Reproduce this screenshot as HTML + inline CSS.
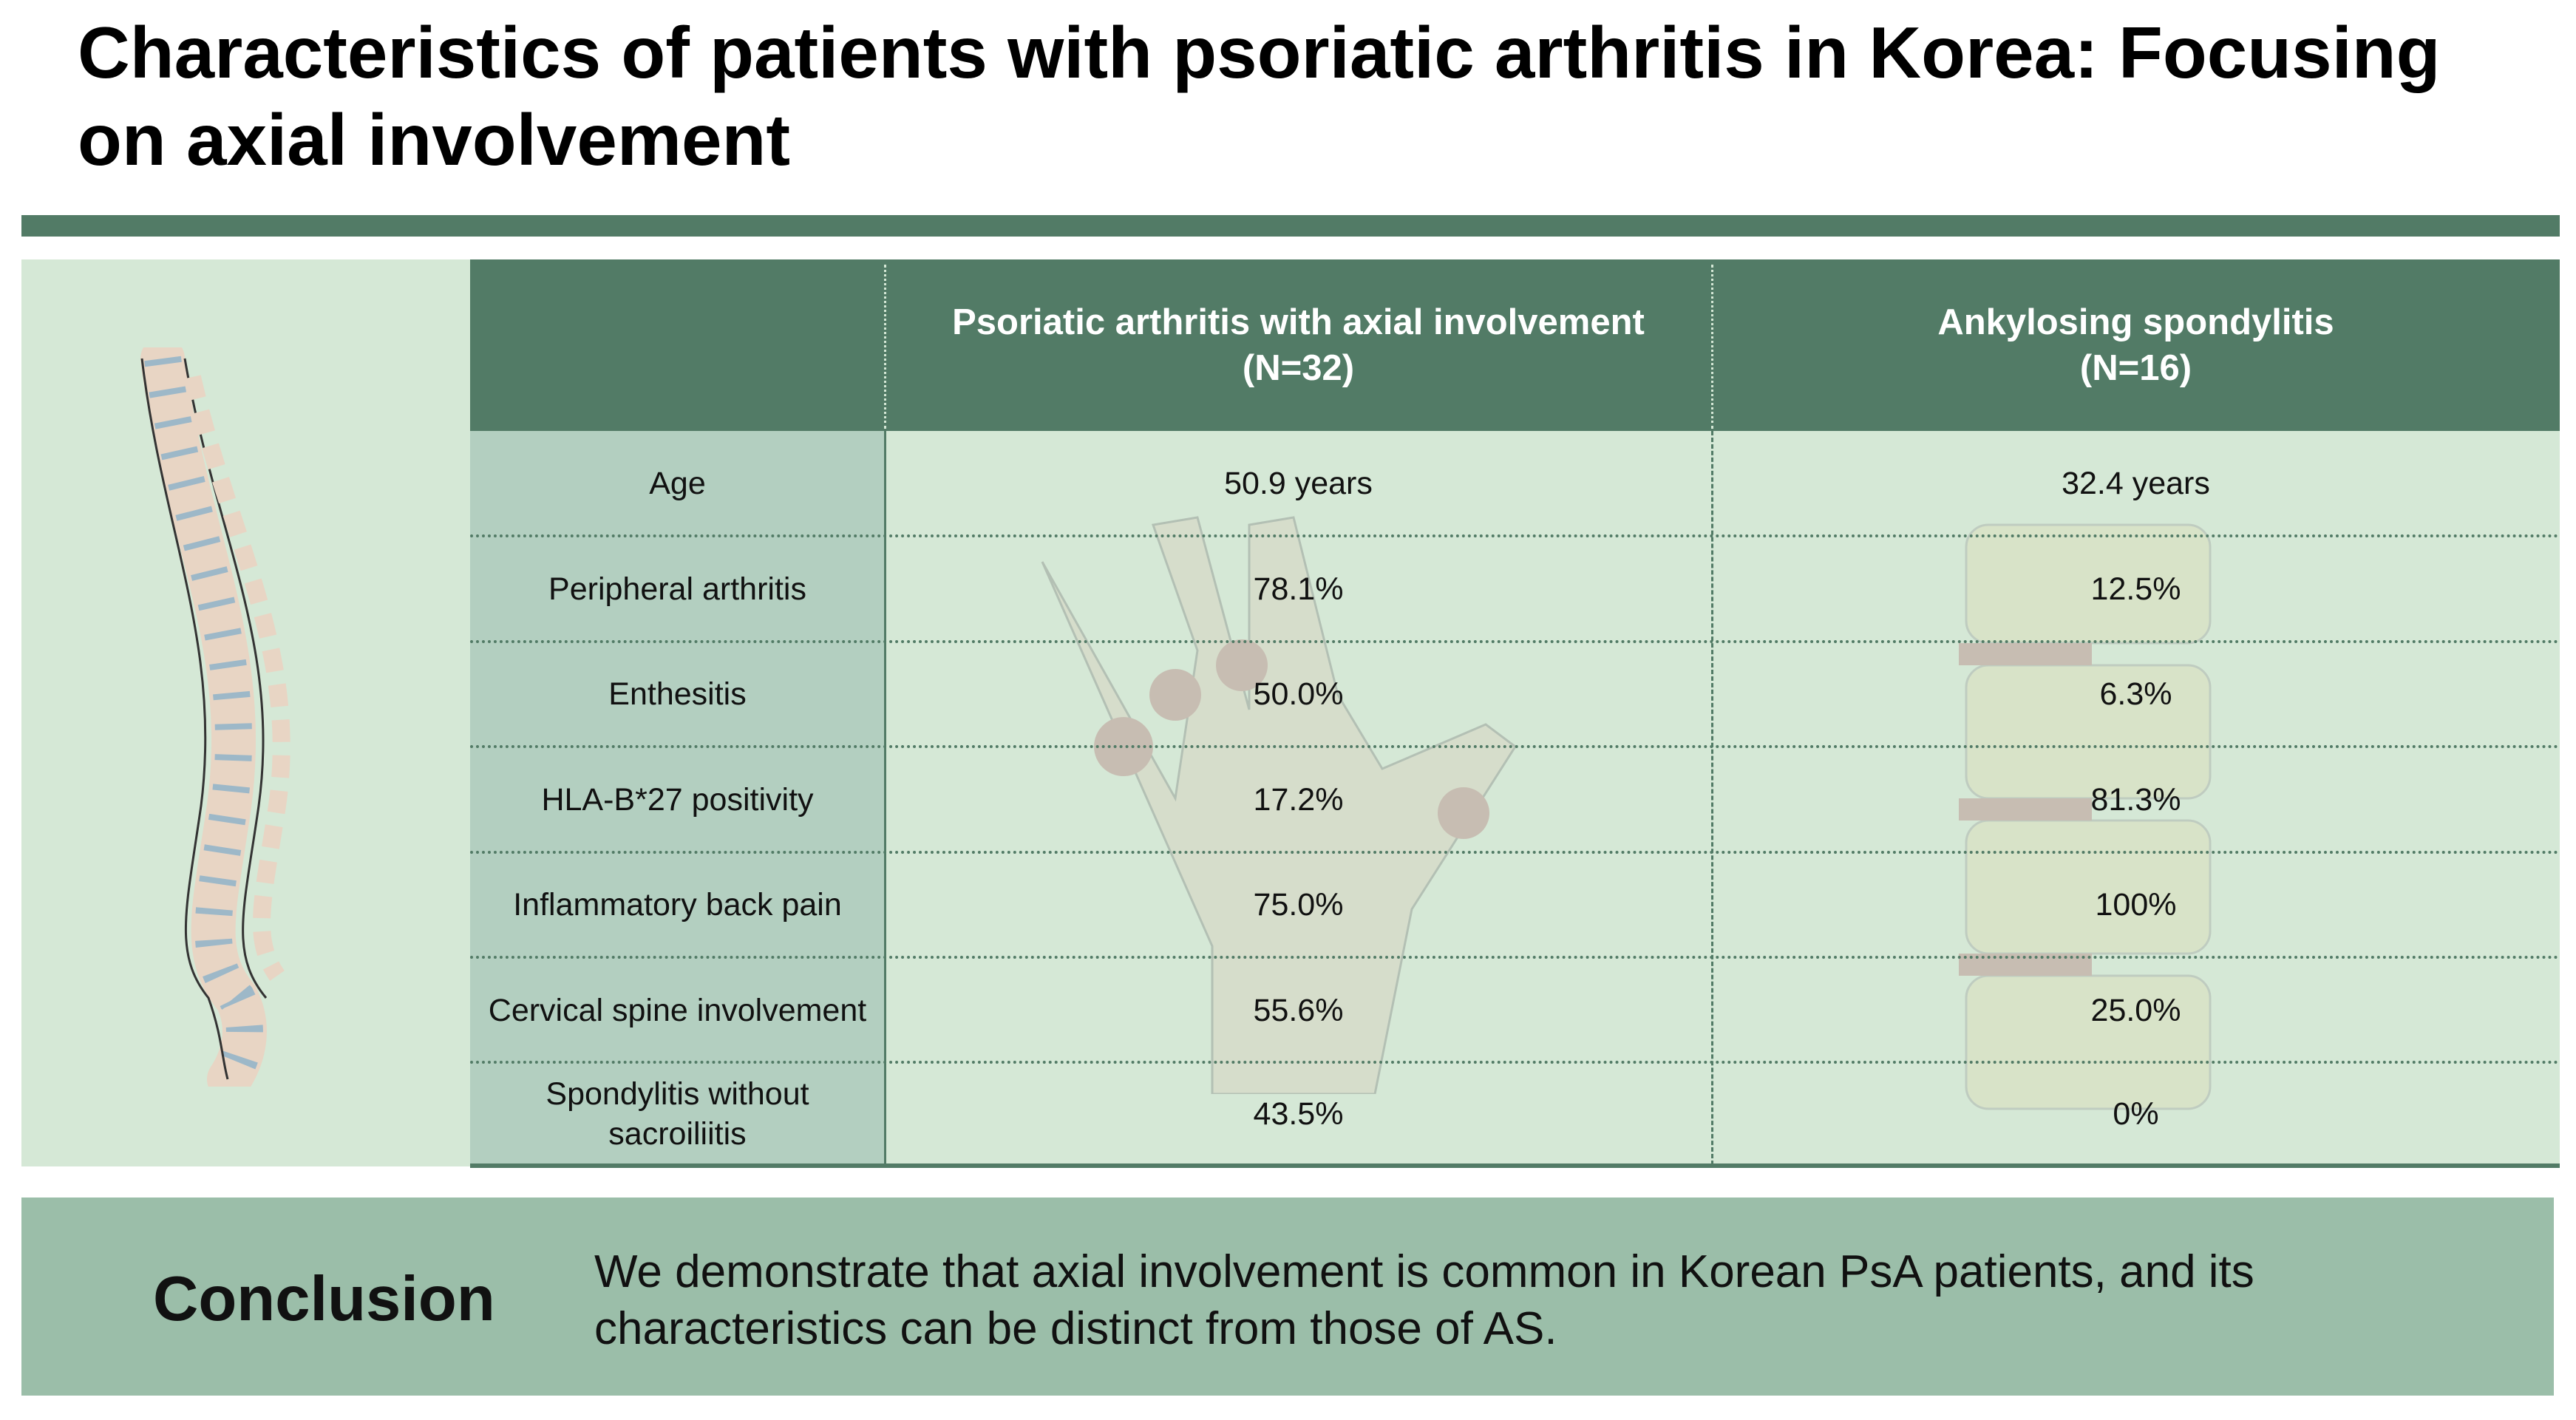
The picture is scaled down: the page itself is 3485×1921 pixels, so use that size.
<!DOCTYPE html>
<html><head><meta charset="utf-8"><style>
*{margin:0;padding:0;box-sizing:border-box}
body{width:3485px;height:1921px;background:#fff;position:relative;overflow:hidden;font-family:"Liberation Sans",Arial,sans-serif}
.t{position:absolute;left:105px;top:12px;font-size:98px;font-weight:bold;line-height:118px;color:#000}
.bar{position:absolute;left:29px;top:291px;width:3434px;height:29px;background:#527b66}
.lp{position:absolute;left:29px;top:351px;width:607px;height:1227px;background:#d5e8d6}
.cell{position:absolute;display:flex;align-items:center;justify-content:center;text-align:center;font-size:43px;color:#111;line-height:54px}
.h{color:#fff;font-weight:bold;font-size:49px;line-height:62px}
.hl{position:absolute;height:0;border-top:4px dotted #527b66}
.conc{position:absolute;left:29px;top:1620px;width:3426px;height:268px;background:#9bbea9}
</style></head><body>
<div class="t">Characteristics of patients with psoriatic arthritis in Korea: Focusing<br>on axial involvement</div>
<div class="bar"></div>
<div class="lp"></div>
<div style="position:absolute;left:636px;top:351px;width:2827px;height:232px;background:#527b66"></div>
<div style="position:absolute;left:636px;top:583px;width:561px;height:993px;background:#b3cfc0"></div>
<div style="position:absolute;left:1197px;top:583px;width:2266px;height:993px;background:#d5e8d6"></div>
<div style="position:absolute;left:636px;top:1574px;width:2827px;height:6px;background:#527b66"></div>
<div style="position:absolute;left:1196px;top:583px;width:3px;height:993px;background:#527b66"></div>
<div style="position:absolute;left:2315px;top:583px;width:0;height:993px;border-left:3px dashed #527b66"></div>
<div style="position:absolute;left:1196px;top:358px;width:0;height:222px;border-left:3px dotted #d5e8d6"></div>
<div style="position:absolute;left:2315px;top:358px;width:0;height:222px;border-left:3px dotted #d5e8d6"></div>
<svg style="position:absolute;left:1390px;top:680px" width="700" height="800" opacity="0.35">
<path d="M20,80 L200,400 L230,200 L170,30 L230,20 L300,280 L300,30 L360,20 L420,260 L480,360 L620,300 L660,330 L520,550 L470,800 L250,800 L250,600 Z" fill="#d8c9b8" stroke="#777" stroke-width="3"/>
<circle cx="130" cy="330" r="40" fill="#b07070"/><circle cx="200" cy="260" r="35" fill="#b07070"/><circle cx="290" cy="220" r="35" fill="#b07070"/><circle cx="590" cy="420" r="35" fill="#b07070"/>
</svg>
<svg style="position:absolute;left:2640px;top:690px" width="460" height="840" opacity="0.35">
<g fill="#e0dcb0" stroke="#999" stroke-width="3">
<rect x="20" y="20" width="330" height="160" rx="30"/><rect x="20" y="210" width="330" height="180" rx="30"/><rect x="20" y="420" width="330" height="180" rx="30"/><rect x="20" y="630" width="330" height="180" rx="30"/>
</g>
<g fill="#b07070"><rect x="10" y="180" width="180" height="30"/><rect x="10" y="390" width="180" height="30"/><rect x="10" y="600" width="180" height="30"/></g>
</svg>
<div class="hl" style="left:636px;top:723px;width:2827px"></div>
<div class="hl" style="left:636px;top:866px;width:2827px"></div>
<div class="hl" style="left:636px;top:1008px;width:2827px"></div>
<div class="hl" style="left:636px;top:1151px;width:2827px"></div>
<div class="hl" style="left:636px;top:1293px;width:2827px"></div>
<div class="hl" style="left:636px;top:1435px;width:2827px"></div>
<div class="cell h" style="left:1197px;top:351px;width:1119px;height:232px">Psoriatic arthritis with axial involvement<br>(N=32)</div>
<div class="cell h" style="left:2316px;top:351px;width:1147px;height:232px">Ankylosing spondylitis<br>(N=16)</div>
<div class="cell" style="left:636px;top:583px;width:561px;height:142px">Age</div>
<div class="cell" style="left:1197px;top:583px;width:1119px;height:142px">50.9 years</div>
<div class="cell" style="left:2316px;top:583px;width:1147px;height:142px">32.4 years</div>
<div class="cell" style="left:636px;top:726px;width:561px;height:142px">Peripheral arthritis</div>
<div class="cell" style="left:1197px;top:726px;width:1119px;height:142px">78.1%</div>
<div class="cell" style="left:2316px;top:726px;width:1147px;height:142px">12.5%</div>
<div class="cell" style="left:636px;top:868px;width:561px;height:142px">Enthesitis</div>
<div class="cell" style="left:1197px;top:868px;width:1119px;height:142px">50.0%</div>
<div class="cell" style="left:2316px;top:868px;width:1147px;height:142px">6.3%</div>
<div class="cell" style="left:636px;top:1011px;width:561px;height:142px">HLA-B*27 positivity</div>
<div class="cell" style="left:1197px;top:1011px;width:1119px;height:142px">17.2%</div>
<div class="cell" style="left:2316px;top:1011px;width:1147px;height:142px">81.3%</div>
<div class="cell" style="left:636px;top:1153px;width:561px;height:142px">Inflammatory back pain</div>
<div class="cell" style="left:1197px;top:1153px;width:1119px;height:142px">75.0%</div>
<div class="cell" style="left:2316px;top:1153px;width:1147px;height:142px">100%</div>
<div class="cell" style="left:636px;top:1296px;width:561px;height:142px">Cervical spine involvement</div>
<div class="cell" style="left:1197px;top:1296px;width:1119px;height:142px">55.6%</div>
<div class="cell" style="left:2316px;top:1296px;width:1147px;height:142px">25.0%</div>
<div class="cell" style="left:636px;top:1438px;width:561px;height:138px">Spondylitis without<br>sacroiliitis</div>
<div class="cell" style="left:1197px;top:1438px;width:1119px;height:138px">43.5%</div>
<div class="cell" style="left:2316px;top:1438px;width:1147px;height:138px">0%</div>
<svg style="position:absolute;left:190px;top:470px" width="260" height="1000">
<path d="M30,15 C60,250 150,400 120,620 C100,760 80,820 130,880 C150,920 140,960 120,990" fill="none" stroke="#e8d5c4" stroke-width="60" stroke-linecap="round"/>
<path d="M30,15 C60,250 150,400 120,620 C100,760 80,820 130,880 C150,920 140,960 120,990" fill="none" stroke="#9db8c8" stroke-width="50" stroke-dasharray="8 34"/>
<path d="M60,15 C100,250 190,400 160,620 C140,760 120,820 170,880" fill="none" stroke="#333" stroke-width="3"/>
<path d="M2,15 C30,250 110,400 82,620 C62,760 44,820 92,880 C110,930 110,960 118,990" fill="none" stroke="#333" stroke-width="3"/>
<path d="M70,40 C120,260 215,410 185,620 C165,750 150,800 185,850" fill="none" stroke="#e8d5c4" stroke-width="24" stroke-dasharray="30 18"/>
</svg>
<div class="conc"></div>
<div style="position:absolute;left:207px;top:1708px;font-size:85px;font-weight:bold;color:#111;line-height:100px">Conclusion</div>
<div style="position:absolute;left:804px;top:1682px;font-size:62px;color:#111;line-height:77px">We demonstrate that axial involvement is common in Korean PsA patients, and its<br>characteristics can be distinct from those of AS.</div>
</body></html>
